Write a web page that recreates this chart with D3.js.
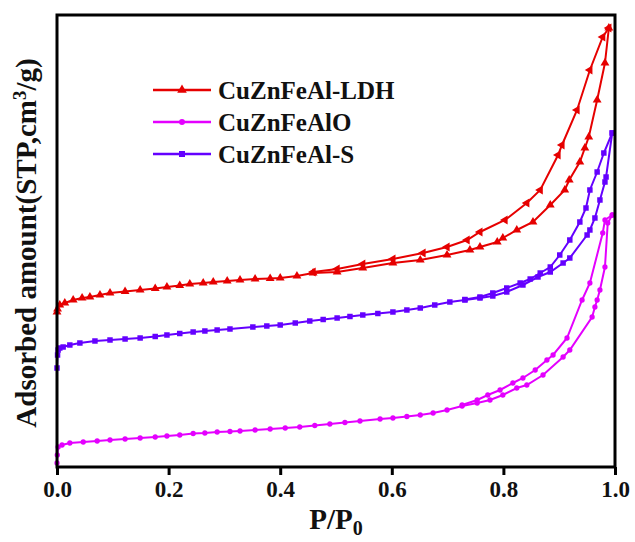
<!DOCTYPE html>
<html>
<head>
<meta charset="utf-8">
<script src="https://cdn.jsdelivr.net/npm/d3@7"></script>
<style>
  html, body { margin: 0; padding: 0; background: #fff; }
  text { font-family: "Liberation Serif", "Times New Roman", serif; font-weight: bold; fill: #111; }
</style>
</head>
<body>
<svg id="chart" width="635" height="542"></svg>
<script>
// ---- Data (P/P0, adsorbed amount in arbitrary units) ----
const seriesNames = ["CuZnFeAl-LDH", "CuZnFeAlO", "CuZnFeAl-S"];
const xTicks = [0.0, 0.2, 0.4, 0.6, 0.8, 1.0];

const ldhAds = [[0.000,155],[0.001,158],[0.005,162],[0.014,164],[0.029,167],[0.045,169],[0.059,170],[0.077,172],[0.095,174],[0.122,175.5],[0.149,177],[0.176,178.5],[0.197,180],[0.220,181.5],[0.238,183],[0.262,184],[0.280,185],[0.305,186],[0.328,187],[0.355,188],[0.382,188.5],[0.400,189],[0.430,191],[0.459,194],[0.502,195],[0.548,199],[0.602,204],[0.651,207],[0.699,212],[0.740,217],[0.758,220],[0.789,225],[0.799,229],[0.824,237],[0.853,245],[0.884,262],[0.910,277],[0.918,287],[0.937,305],[0.946,319],[0.953,330],[0.968,367],[0.982,404],[0.989,439]];
const ldhDes = [[0.989,439],[0.978,430],[0.955,397],[0.932,357],[0.905,322],[0.898,312],[0.866,277],[0.842,264],[0.803,247],[0.758,235],[0.735,227],[0.699,220],[0.656,214],[0.602,208],[0.548,203],[0.502,198],[0.459,195]];

const oAds = [[0.000,4],[0.0005,12],[0.002,20],[0.009,22],[0.023,24],[0.047,25],[0.072,26],[0.095,27],[0.122,28],[0.149,29],[0.176,30],[0.197,31],[0.220,32],[0.244,33.5],[0.265,34],[0.287,35],[0.310,35.5],[0.328,36],[0.355,37],[0.382,38],[0.409,39],[0.435,40],[0.462,41.5],[0.489,43],[0.516,44.5],[0.543,46],[0.579,48],[0.602,49],[0.627,50.5],[0.651,52],[0.674,54],[0.699,57],[0.726,61],[0.753,64],[0.776,67],[0.799,72],[0.824,79],[0.842,82],[0.871,92],[0.907,110],[0.919,117],[0.959,150],[0.964,160],[0.968,167],[0.973,177],[0.982,200],[0.987,244],[0.995,252]];
const oDes = [[0.995,252],[0.982,247],[0.978,234],[0.955,184],[0.941,167],[0.914,129],[0.889,112],[0.878,107],[0.857,97],[0.835,89],[0.817,84],[0.794,77],[0.772,72],[0.753,67],[0.726,62]];

const sAds = [[0.000,99],[0.001,112],[0.002,117],[0.005,119],[0.011,120],[0.023,122],[0.041,124],[0.068,126],[0.095,127],[0.122,128],[0.149,129],[0.176,130.5],[0.197,132],[0.220,133.5],[0.244,135],[0.265,136],[0.287,137],[0.310,138],[0.351,140],[0.376,141],[0.400,142],[0.427,144],[0.453,146],[0.477,147.5],[0.502,149],[0.525,150.5],[0.548,152],[0.575,153.5],[0.602,155],[0.627,157],[0.651,159],[0.677,162],[0.704,165],[0.731,167],[0.758,169],[0.781,171],[0.806,175],[0.835,182],[0.862,190],[0.884,195],[0.907,204],[0.919,209],[0.950,232],[0.955,237],[0.964,249],[0.973,267],[0.982,285],[0.984,290],[0.995,334]];
const sDes = [[0.995,334],[0.980,314],[0.968,295],[0.955,277],[0.948,259],[0.937,245],[0.919,227],[0.901,212],[0.884,200],[0.866,194],[0.848,188],[0.830,184],[0.806,179],[0.781,174],[0.758,170],[0.731,167.5]];

const colors = ["#e60000", "#e400ff", "#6400ff"];

// ---- Layout ----
const svg = d3.select("#chart");
const margin = {left: 57, top: 15, right: 20, bottom: 75};
const W = 635, H = 542;
const x = d3.scaleLinear().domain([0, 1]).range([margin.left, W - margin.right]);
const y = d3.scaleLinear().domain([0, 452]).range([H - margin.bottom, margin.top]);

const line = d3.line().x(d => x(d[0])).y(d => y(d[1]));

const series = [
  {name: seriesNames[0], color: colors[0], ads: ldhAds, des: ldhDes, sym: d3.symbolTriangle, size: 34},
  {name: seriesNames[1], color: colors[1], ads: oAds, des: oDes, sym: d3.symbolCircle, size: 22},
  {name: seriesNames[2], color: colors[2], ads: sAds, des: sDes, sym: d3.symbolSquare, size: 30}
];

const plot = svg.append("g");
series.forEach(s => {
  [s.ads, s.des].forEach((branch, bi) => {
    plot.append("path").datum(branch)
      .attr("d", line).attr("fill", "none")
      .attr("stroke", s.color).attr("stroke-width", 2);
    plot.selectAll(null).data(branch).enter().append("path")
      .attr("d", d3.symbol().type(s.sym).size(s.size))
      .attr("transform", d => `translate(${x(d[0])},${y(d[1])})` + (s.sym === d3.symbolTriangle && bi === 1 ? " rotate(-90)" : ""))
      .attr("fill", s.color);
  });
});

// Frame
svg.append("rect")
  .attr("x", x(0)).attr("y", y(452))
  .attr("width", x(1) - x(0)).attr("height", y(0) - y(452))
  .attr("fill", "none").attr("stroke", "#000").attr("stroke-width", 3);

// X axis
const xAxis = d3.axisBottom(x).tickValues(xTicks).tickFormat(d3.format(".1f")).tickSize(8).tickSizeOuter(0).tickPadding(6);
const gx = svg.append("g").attr("transform", `translate(0,${y(0)})`).call(xAxis);
gx.select(".domain").remove();
gx.selectAll(".tick line").attr("stroke", "#000").attr("stroke-width", 3);
gx.selectAll(".tick text").attr("font-size", 23).attr("fill", "#111")
  .attr("font-family", "Liberation Serif, Times New Roman, serif").attr("font-weight", "bold");

// X label
const xl = svg.append("text").attr("x", 336).attr("y", 529).attr("text-anchor", "middle").attr("font-size", 29);
xl.append("tspan").text("P/P");
xl.append("tspan").attr("dy", 6).attr("font-size", 20).text("0");

// Y label
const yl = svg.append("text").attr("transform", "translate(36,243) rotate(-90)").attr("text-anchor", "middle").attr("font-size", 29);
yl.append("tspan").text("Adsorbed amount(STP,cm");
yl.append("tspan").attr("dy", -10).attr("font-size", 19).text("3");
yl.append("tspan").attr("dy", 10).text("/g)");

// Legend
const legY = [90, 122, 154];
series.forEach((s, i) => {
  const g = svg.append("g");
  g.append("line").attr("x1", 153).attr("x2", 211).attr("y1", legY[i]).attr("y2", legY[i])
    .attr("stroke", s.color).attr("stroke-width", 2.5);
  g.append("path").attr("d", d3.symbol().type(s.sym).size(s.size + 6)).attr("transform", `translate(182,${legY[i]})`).attr("fill", s.color);
  g.append("text").attr("x", 218).attr("y", legY[i] + 9).attr("font-size", 25).text(s.name);
});
</script>
</body>
</html>
